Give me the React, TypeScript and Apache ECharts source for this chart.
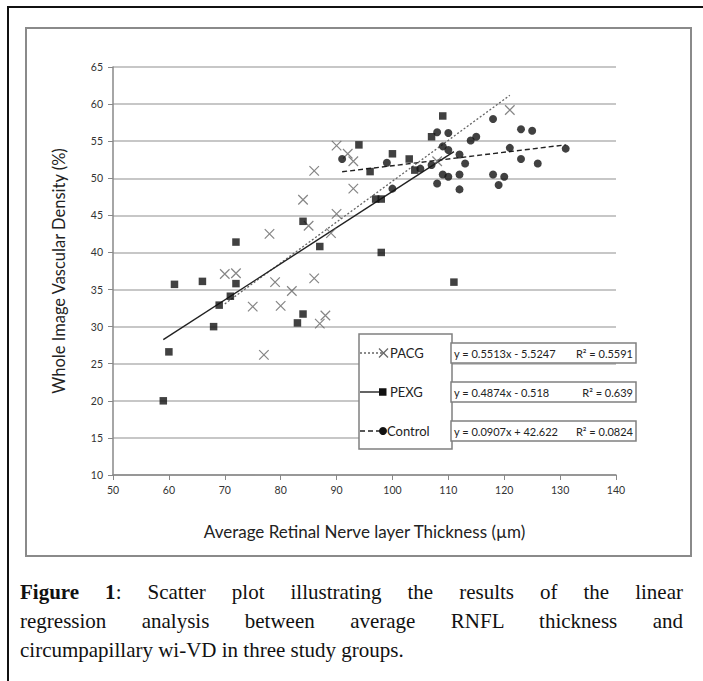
import React, { useEffect, useRef } from "react";
import * as echarts from "echarts";

// ---- data ----
const pacgX = [70, 72, 75, 77, 78, 79, 80, 82, 84, 85, 86, 86, 87, 88, 89, 90, 90, 92, 93, 93, 108, 121];
const pacgY = [37.1, 37.2, 32.7, 26.2, 42.5, 36.0, 32.8, 34.8, 47.1, 43.6, 36.5, 51.0, 30.4, 31.5, 42.6, 45.2, 54.4, 53.3, 52.3, 48.6, 52.3, 59.2];

const pexgX = [59, 60, 61, 66, 68, 69, 71, 72, 72, 83, 84, 84, 87, 94, 96, 97, 98, 98, 100, 103, 104, 107, 109, 111];
const pexgY = [20.0, 26.6, 35.7, 36.1, 30.0, 32.9, 34.1, 35.8, 41.4, 30.5, 31.7, 44.2, 40.8, 54.5, 50.9, 47.2, 47.2, 40.0, 53.3, 52.6, 51.1, 55.6, 58.4, 36.0];

const ctrlX = [91, 99, 100, 105, 107, 108, 108, 109, 109, 110, 110, 110, 112, 112, 112, 113, 114, 115, 118, 118, 119, 120, 121, 123, 123, 125, 126, 131];
const ctrlY = [52.6, 52.1, 48.6, 51.3, 51.8, 56.2, 49.3, 54.3, 50.5, 56.1, 53.8, 50.2, 53.2, 50.5, 48.5, 52.0, 55.1, 55.6, 58.0, 50.5, 49.1, 50.2, 54.1, 56.6, 52.6, 56.4, 52.0, 54.0];

const groups = ["PACG", "PEXG", "Control"];
const slopes = [0.5513, 0.4874, 0.0907];
const intercepts = [-5.5247, -0.518, 42.622];
const fitRanges = [[70, 121], [59, 111], [91, 131]];
const equations = ["y = 0.5513x - 5.5247", "y = 0.4874x - 0.518", "y = 0.0907x + 42.622"];
const rSquared = ["R\u00B2 = 0.5591", "R\u00B2 = 0.639", "R\u00B2 = 0.0824"];

const xTicks = [50, 140, 10];
const yTicks = [10, 65, 5];

const xTitle = "Average Retinal Nerve layer Thickness (\u00B5m)";
const yTitle = "Whole Image Vascular Density (%)";

const captionLines = [
  "Scatter plot illustrating the results of the linear",
  "regression analysis between average RNFL thickness and",
  "circumpapillary wi-VD in three study groups.",
];

const FONT = "Lato, 'Open Sans', sans-serif";
const X_PATH = "path://M0,0L10,10M10,0L0,10";

function zip(xs: number[], ys: number[]) {
  return xs.map((x, i) => [x, ys[i]]);
}

export default function App() {
  const ref = useRef<HTMLDivElement>(null);

  useEffect(() => {
    if (!ref.current) return;
    const chart = echarts.init(ref.current, undefined, { renderer: "svg" });

    const fitData = groups.map((_, i) =>
      fitRanges[i].map((x) => [x, slopes[i] * x + intercepts[i]])
    );

    const lineStyles: any[] = [
      { color: "#666", width: 1.3, type: [2, 2] },
      { color: "#222", width: 1.4, type: "solid" },
      { color: "#222", width: 1.4, type: [5, 3] },
    ];

    const rows = [353, 392, 431];
    const graphic: any[] = [
      {
        type: "rect",
        shape: { x: 26, y: 28, width: 665, height: 528 },
        style: { fill: "none", stroke: "#8a8a8a", lineWidth: 2 },
        silent: true,
      },
      {
        type: "rect",
        shape: { x: 359, y: 334, width: 93, height: 115 },
        style: { fill: "#fff", stroke: "#808080", lineWidth: 1.5 },
        z: 10,
      },
    ];
    rows.forEach((y, i) => {
      graphic.push({
        type: "line",
        shape: { x1: 360, y1: y, x2: 383, y2: y },
        style: {
          stroke: lineStyles[i].color,
          lineWidth: lineStyles[i].width,
          lineDash: Array.isArray(lineStyles[i].type) ? lineStyles[i].type : null,
        },
        z: 11,
      });
      if (i === 0) {
        graphic.push({
          type: "polyline",
          shape: { points: [[379, y - 4.5], [388, y + 4.5]] },
          style: { stroke: "#666", lineWidth: 1.2, fill: "none" },
          z: 12,
        });
        graphic.push({
          type: "polyline",
          shape: { points: [[388, y - 4.5], [379, y + 4.5]] },
          style: { stroke: "#666", lineWidth: 1.2, fill: "none" },
          z: 12,
        });
      } else if (i === 1) {
        graphic.push({
          type: "rect",
          shape: { x: 379, y: y - 3.75, width: 7.5, height: 7.5 },
          style: { fill: "#111" },
          z: 12,
        });
      } else {
        graphic.push({
          type: "circle",
          shape: { cx: 383, cy: y, r: 4 },
          style: { fill: "#111" },
          z: 12,
        });
      }
      graphic.push({
        type: "text",
        x: i === 2 ? 387 : 390,
        y,
        style: {
          text: groups[i],
          fontFamily: FONT,
          fontSize: 13,
          fill: "#222",
          verticalAlign: "middle",
          align: "left",
        },
        z: 12,
      });
      const by = [343, 382, 421][i];
      graphic.push({
        type: "rect",
        shape: { x: 451, y: by, width: 185, height: 20 },
        style: { fill: "#fff", stroke: "#808080", lineWidth: 1.5 },
        z: 10,
      });
      graphic.push({
        type: "text",
        x: 454,
        y: by + 10,
        style: {
          text: equations[i],
          fontFamily: FONT,
          fontSize: 11,
          fill: "#222",
          verticalAlign: "middle",
          align: "left",
        },
        z: 12,
      });
      graphic.push({
        type: "text",
        x: 633,
        y: by + 10,
        style: {
          text: rSquared[i],
          fontFamily: FONT,
          fontSize: 11,
          fill: "#222",
          verticalAlign: "middle",
          align: "right",
        },
        z: 12,
      });
    });

    chart.setOption({
      animation: false,
      grid: { left: 113, top: 67, width: 503, height: 408 },
      xAxis: {
        type: "value",
        min: xTicks[0],
        max: xTicks[1],
        interval: xTicks[2],
        name: xTitle,
        nameLocation: "middle",
        nameGap: 48,
        nameTextStyle: { fontFamily: FONT, fontSize: 17, color: "#222" },
        axisLine: { lineStyle: { color: "#888", width: 1.5 } },
        axisTick: { show: true, length: 5, lineStyle: { color: "#888" } },
        axisLabel: { fontFamily: FONT, fontSize: 10.5, color: "#333", margin: 9 },
        splitLine: { show: false },
      },
      yAxis: {
        type: "value",
        min: yTicks[0],
        max: yTicks[1],
        interval: yTicks[2],
        name: yTitle,
        nameLocation: "middle",
        nameGap: 46,
        nameTextStyle: { fontFamily: FONT, fontSize: 16.5, color: "#222" },
        axisLine: { show: true, lineStyle: { color: "#888", width: 1.5 } },
        axisTick: { show: true, length: 5, lineStyle: { color: "#888" } },
        axisLabel: { fontFamily: FONT, fontSize: 10.5, color: "#333", margin: 10 },
        splitLine: { show: true, lineStyle: { color: "#b4b4b4", width: 1.5 } },
      },
      graphic,
      series: [
        {
          name: "PACG",
          type: "scatter",
          data: zip(pacgX, pacgY),
          symbol: X_PATH,
          symbolSize: 9.5,
          itemStyle: { color: "rgba(0,0,0,0)", borderColor: "#666", borderWidth: 1.2 },
          z: 5,
        },
        {
          name: "PEXG",
          type: "scatter",
          data: zip(pexgX, pexgY),
          symbol: "rect",
          symbolSize: 7.5,
          itemStyle: { color: "#111" },
          z: 5,
        },
        {
          name: "Control",
          type: "scatter",
          data: zip(ctrlX, ctrlY),
          symbol: "circle",
          symbolSize: 8,
          itemStyle: { color: "#111" },
          z: 5,
        },
        ...groups.map((g, i) => ({
          name: g + " fit",
          type: "line",
          data: fitData[i],
          showSymbol: false,
          lineStyle: lineStyles[i],
          z: 3,
          silent: true,
        })),
      ],
    });

    return () => chart.dispose();
  }, []);

  const capStyle: React.CSSProperties = {
    position: "absolute",
    left: 20,
    width: 663,
    fontFamily: "'Liberation Serif', 'Times New Roman', serif",
    fontSize: 21,
    lineHeight: "29px",
    color: "#111",
    whiteSpace: "nowrap",
  };

  return (
    <div
      style={{
        position: "fixed",
        left: 0,
        top: 0,
        width: 703,
        height: 681,
        overflow: "hidden",
        background: "#fff",
      }}
    >
      <div
        style={{
          position: "absolute",
          left: 7,
          top: 6,
          width: 720,
          height: 720,
          border: "2px solid #111",
        }}
      />
      <div ref={ref} style={{ position: "absolute", left: 0, top: 0, width: 703, height: 565 }} />
      <div style={{ ...capStyle, top: 578, textAlign: "justify", textAlignLast: "justify" as any, whiteSpace: "normal" }}>
        <b>Figure 1</b>: {captionLines[0]}
      </div>
      <div style={{ ...capStyle, top: 607, textAlign: "justify", textAlignLast: "justify" as any, whiteSpace: "normal" }}>
        {captionLines[1]}
      </div>
      <div style={{ ...capStyle, top: 636, textAlign: "left" }}>{captionLines[2]}</div>
    </div>
  );
}
